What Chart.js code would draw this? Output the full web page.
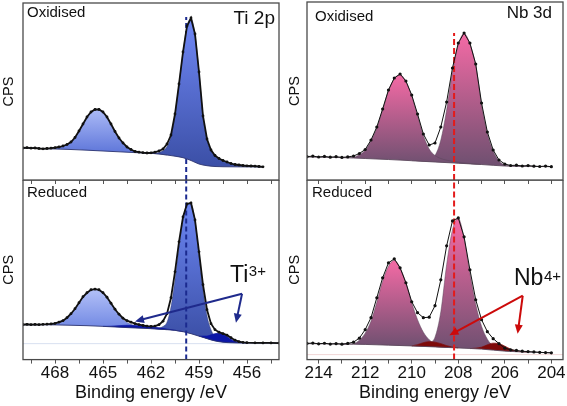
<!DOCTYPE html>
<html>
<head>
<meta charset="utf-8">
<script src="https://cdn.jsdelivr.net/npm/chart.js@4.4.0/dist/chart.umd.min.js"></script>
<style>
  body { margin: 0; background: #fff; }
  #wrap { position: relative; width: 567px; height: 406px; overflow: hidden; }
  canvas { position: absolute; }
</style>
</head>
<body>
<div id="wrap">
  <canvas id="tiOx" width="283" height="184" style="left:0;top:0"></canvas>
  <canvas id="tiRed" width="283" height="226" style="left:0;top:180px"></canvas>
  <canvas id="nbOx" width="281" height="184" style="left:286px;top:0"></canvas>
  <canvas id="nbRed" width="281" height="226" style="left:286px;top:180px"></canvas>
</div>
<script>
// ---- Ti 2p, oxidised: [binding energy eV, CPS (arb.)]
var tiOxData = [[470,32],[469.75,32.3],[469.5,31.8],[469.25,32],[469,31.5],[468.75,31.2],[468.5,31.5],[468.25,31.8],[468,32.3],[467.75,33],[467.5,34],[467.25,35.5],[467,38],[466.75,42.5],[466.5,49],[466.25,56],[466,63],[465.75,68],[465.5,70.5],[465.25,70.5],[465,68],[464.75,63],[464.5,56],[464.25,48.5],[464,42],[463.75,37],[463.5,33],[463.25,30.5],[463,28.5],[462.75,27.8],[462.5,27.3],[462.25,27],[462,27.2],[461.75,27.8],[461.5,29],[461.25,31],[461,36],[460.75,45],[460.5,66],[460.25,96],[460,128],[459.75,154],[459.5,162],[459.25,146],[459,108],[458.75,64],[458.5,41],[458.25,30],[458,24.5],[457.75,21.5],[457.5,19.5],[457.25,18],[457,16.5],[456.75,15.5],[456.5,15],[456.25,14.5],[456,14.2],[455.75,14],[455.5,13.8],[455.25,13.5],[455,13.2]];
var tiOxBg = [[470,32],[469,31.5],[468,31],[467,30.5],[466,29.8],[465,29],[464,28.2],[463,27.4],[462,26.7],[461.5,26],[461,25],[460.5,23.8],[460,22.3],[459.5,19.5],[459,16],[458.5,14.3],[458,13.5],[457,13.2],[455,13]];
var tiOx2p12 = [[470,32],[469,31.6],[468.5,31.4],[468,31.8],[467.75,32.7],[467.5,33.8],[467.25,35.3],[467,37.8],[466.75,42.3],[466.5,48.8],[466.25,55.8],[466,62.8],[465.75,67.8],[465.5,70.3],[465.25,70.3],[465,67.8],[464.75,62.8],[464.5,55.8],[464.25,48.3],[464,41.8],[463.75,36.6],[463.5,32.6],[463.25,30],[463,28.4],[462.5,27.3],[462,26.8],[461.5,26.1],[461,25]];
var tiOx2p32 = [[462.5,27],[462,26.8],[461.75,27],[461.5,27.6],[461.25,29.2],[461,33.5],[460.75,43.5],[460.5,65],[460.25,95.5],[460,127.5],[459.75,153.5],[459.5,161.5],[459.25,145.5],[459,107.5],[458.75,63.5],[458.5,40.5],[458.25,29.5],[458,24],[457.75,21],[457.5,19],[457.25,17.5],[457,16.2],[456.5,14.8],[456,14],[455.5,13.6],[455,13.1]];

// ---- Ti 2p, reduced
var tiRedData = [[470,35],[469.75,35.4],[469.5,35],[469.25,35.3],[469,35],[468.75,35.4],[468.5,35.5],[468.25,35.8],[468,36.3],[467.75,37.5],[467.5,39],[467.25,42],[467,46],[466.75,51],[466.5,57],[466.25,63],[466,67],[465.75,70],[465.5,70.7],[465.25,70],[465,67],[464.75,62.5],[464.5,56.5],[464.25,50.5],[464,45.5],[463.75,41.5],[463.5,39],[463.25,37.5],[463,36],[462.75,35],[462.5,34.2],[462.25,33.6],[462,33.3],[461.75,33.6],[461.5,35],[461.25,38.5],[461,46],[460.75,62],[460.5,88],[460.25,118],[460,143],[459.75,156],[459.5,157],[459.25,140],[459,108],[458.75,75],[458.5,50],[458.25,36],[458,30],[457.75,27.5],[457.5,26],[457.25,24.5],[457,22],[456.75,19.5],[456.5,18],[456.25,17.3],[456,17],[455.5,16.8],[455,16.7],[454.5,16.7],[454,16.6]];
var tiRedBg = [[470,35],[468,34.8],[466,34],[465,33.3],[464,32.5],[463,31.7],[462,31],[461,30],[460.5,29.3],[460,28],[459.5,26],[459,23.5],[458.5,21],[458,18.7],[457.5,17.4],[457,16.9],[456,16.7],[454,16.6]];
var tiRed2p12 = [[470,35],[469,35.1],[468.5,35.3],[468,36],[467.75,37],[467.5,38.5],[467.25,41.5],[467,45.5],[466.75,50.5],[466.5,56.5],[466.25,62.5],[466,66.8],[465.75,69.7],[465.5,70.4],[465.25,69.6],[465,66.5],[464.75,62],[464.5,56],[464.25,50],[464,44.5],[463.75,40.3],[463.5,37.3],[463.25,35.3],[463,33.8],[462.5,32.2],[462,31.3],[461.5,30.6],[461,30]];
var tiRed2p32 = [[462,31],[461.5,31.6],[461.25,33.2],[461,37.5],[460.75,53],[460.5,80],[460.25,113],[460,140],[459.75,155],[459.5,156],[459.25,139],[459,104],[458.75,70],[458.5,44],[458.25,30],[458,23],[457.75,20],[457.5,18.4],[457,17.2],[456.5,16.8],[456,16.7]];
var tiRedTi3a = [[465,33.3],[464.5,33.5],[464,34],[463.5,34.4],[463,34.3],[462.5,33.8],[462,33],[461.5,31.8],[461,30.6],[460.5,29.4],[460,28]];
var tiRedTi3b = [[459,23.5],[458.5,23.6],[458.25,24.8],[458,26],[457.75,26.4],[457.5,25.4],[457.25,23.2],[457,20.4],[456.75,18.3],[456.5,17.2],[456,16.7]];
var tiRedBase = [[470,16],[454,16]];

// ---- Nb 3d, oxidised
var nbOxData = [[214.5,23.3],[214.25,23.9],[214,23],[213.75,23.6],[213.5,22.8],[213.25,23.3],[213,22.6],[212.75,23.1],[212.5,24],[212.25,26.5],[212,30.5],[211.75,40],[211.5,53],[211.25,71],[211,90],[210.75,102],[210.5,106],[210.25,99],[210,85],[209.75,66],[209.5,46],[209.25,35],[209,37],[208.75,53],[208.5,78],[208.25,112],[208,137],[207.75,147],[207.5,137],[207.25,116],[207,77],[206.75,48],[206.5,30],[206.25,20],[206,16],[205.75,14.5],[205.5,14.8],[205.25,14],[205,14.4],[204.75,13.8],[204.5,13.5],[204.25,13.9],[204,13.3]];
var nbOxBg = [[214.5,23],[213,22.4],[212.5,22],[212,21.5],[211,20.5],[210,19.3],[209,18],[208,16.8],[207,15.5],[206,14],[205,13.7],[204,13.3]];
var nbOx3d32 = [[213,22.4],[212.5,22.8],[212.25,25.3],[212,29.8],[211.75,39.3],[211.5,52.3],[211.25,70.3],[211,89.3],[210.75,101.3],[210.5,105.3],[210.25,98.3],[210,84],[209.75,64.5],[209.5,44.5],[209.25,31],[209,24.5],[208.75,21.5],[208.5,19.8],[208,17.8],[207.5,16.4],[207,15.5]];
var nbOx3d52 = [[210,19.3],[209.5,19.5],[209.25,20.8],[209,24.5],[208.75,40],[208.5,70],[208.25,108],[208,135],[207.75,146.5],[207.5,136],[207.25,114.5],[207,75.5],[206.75,46.5],[206.5,29],[206.25,19],[206,15],[205.75,14.2],[205.5,13.9],[205,13.7]];

// ---- Nb 3d, reduced
var nbRedData = [[214.5,16.2],[214.25,16.6],[214,15.8],[213.75,16.4],[213.5,15.6],[213.25,16],[213,15.5],[212.75,16.2],[212.5,17.5],[212.25,21.5],[212,30],[211.75,42],[211.5,62],[211.25,82],[211,97],[210.75,101],[210.5,92],[210.25,77],[210,58],[209.75,47],[209.5,42],[209.25,42.5],[209,54],[208.75,80],[208.5,114],[208.25,139],[208,142],[207.75,123],[207.5,90],[207.25,60],[207,40],[206.75,28],[206.5,21],[206.25,16],[206,11.5],[205.75,9.8],[205.5,9.2],[205.25,8.4],[205,8],[204.75,7.7],[204.5,7.3],[204.25,7],[204,6.8]];
var nbRedBg = [[214.5,16],[212.5,15.5],[212,15.2],[211,14.5],[210,13.7],[209,12.7],[208,11.7],[207,10.5],[206,8.5],[205,7.5],[204,6.8]];
var nbRed3d32 = [[213,15.3],[212.5,16],[212.25,19.5],[212,26.5],[211.75,38.5],[211.5,57.5],[211.25,78.5],[211,93.5],[210.75,99.5],[210.5,92],[210.25,77],[210,57],[209.75,40],[209.5,27.5],[209.25,20],[209,16],[208.5,13.5],[208,12]];
var nbRed3d52 = [[210,13.7],[209.5,14.5],[209.25,16.5],[209,22.5],[208.75,48],[208.5,95],[208.25,130],[208,141.5],[207.75,121.5],[207.5,86.5],[207.25,55.5],[207,33.5],[206.75,20.5],[206.5,13.5],[206.25,10],[206,8.8],[205.5,8]];
var nbRedNb4a = [[210,13.7],[209.75,15],[209.5,17],[209.25,18],[209,17.5],[208.75,16],[208.5,14],[208.25,12.5],[208,11.7]];
var nbRedNb4b = [[207.5,11],[207.25,11.5],[207,12.5],[206.75,14.8],[206.5,16.5],[206.25,16],[206,13.5],[205.75,10.5],[205.5,8.5],[205.25,7.8],[205,7.5]];
var nbRedBase = [[214.5,5],[203.5,5]];

// reference energies (dashed lines) and axes
var tiRefE = 459.8, nbRefE = 208.18;
var tiTicks = [469.5, 468, 466.5, 465, 463.5, 462, 460.5, 459, 457.5, 456, 454.5];
var tiTickLabels = [468, 465, 462, 459, 456];
var nbTicks = [214, 213, 212, 211, 210, 209, 208, 207, 206, 205, 204];
var nbTickLabels = [214, 212, 210, 208, 206, 204];

var FONT = "'Liberation Sans', Arial, sans-serif";
Chart.defaults.font.family = FONT;
Chart.defaults.color = "#111";

function pts(a) {
  return a.map(function (p) { return { x: p[0], y: p[1] }; });
}

// vertical gradient from the top of a component down to its base
function shade(top, bottom) {
  return function (c) {
    var chart = c.chart;
    if (!chart.chartArea) return bottom;
    var ys = chart.scales.y;
    var vals = chart.data.datasets[c.datasetIndex].data.map(function (p) { return p.y; });
    var g = chart.ctx.createLinearGradient(0, ys.getPixelForValue(Math.max.apply(null, vals)), 0, ys.getPixelForValue(Math.min.apply(null, vals)));
    g.addColorStop(0, top);
    g.addColorStop(1, bottom);
    return g;
  };
}

function measured(d, lw, r) {
  return { data: pts(d), borderColor: "#111", borderWidth: lw, pointRadius: r, pointBackgroundColor: "#111", pointBorderWidth: 0, fill: false };
}
function bgLine(d, col) {
  return { data: pts(d), borderColor: col, borderWidth: 0.9, pointRadius: 0, fill: false, cubicInterpolationMode: "monotone" };
}
function comp(d, bgIdx, bg, edge) {
  return { data: pts(d), fill: bgIdx, backgroundColor: bg, borderColor: edge, borderWidth: 0.7, pointRadius: 0, cubicInterpolationMode: "monotone" };
}
function dashed(e, top, col, dash) {
  return { data: pts([[e, 0], [e, top]]), borderColor: col, borderWidth: 2, borderDash: dash, pointRadius: 0, fill: false };
}

var deco = {
  id: "deco",
  afterDatasetsDraw: function (chart, args, o) {
    var ctx = chart.ctx, a = chart.chartArea, sx = chart.scales.x, sy = chart.scales.y;
    ctx.save();
    ctx.strokeStyle = "#4a4a4a";
    ctx.lineWidth = 1.3;
    ctx.strokeRect(a.left, a.top, a.right - a.left, a.bottom - a.top);
    (o.arrows || []).forEach(function (ar) {
      var x0 = sx.getPixelForValue(ar.from[0]), y0 = sy.getPixelForValue(ar.from[1]);
      var x1 = sx.getPixelForValue(ar.to[0]), y1 = sy.getPixelForValue(ar.to[1]);
      var ang = Math.atan2(y1 - y0, x1 - x0), L = 9, W = 4;
      ctx.strokeStyle = o.arrowColor;
      ctx.fillStyle = o.arrowColor;
      ctx.lineWidth = 2;
      ctx.beginPath();
      ctx.moveTo(x0, y0);
      ctx.lineTo(x1 - L * 0.8 * Math.cos(ang), y1 - L * 0.8 * Math.sin(ang));
      ctx.stroke();
      ctx.beginPath();
      ctx.moveTo(x1, y1);
      ctx.lineTo(x1 - L * Math.cos(ang) + W * Math.sin(ang), y1 - L * Math.sin(ang) - W * Math.cos(ang));
      ctx.lineTo(x1 - L * Math.cos(ang) - W * Math.sin(ang), y1 - L * Math.sin(ang) + W * Math.cos(ang));
      ctx.closePath();
      ctx.fill();
    });
    ctx.fillStyle = "#111";
    ctx.textBaseline = "alphabetic";
    (o.labels || []).forEach(function (t) {
      ctx.font = t.size + "px " + FONT;
      var x = t.right !== undefined ? a.right - t.right : a.left + t.left;
      var y = a.top + t.top;
      ctx.textAlign = t.right !== undefined ? "right" : "left";
      ctx.fillText(t.text, x, y);
      if (t.sup) {
        var w = ctx.measureText(t.text).width;
        ctx.font = t.supSize + "px " + FONT;
        ctx.textAlign = "left";
        ctx.fillText(t.sup, x + w + 0.5, y - t.raise);
      }
    });
    ctx.restore();
  }
};

function panel(id, cfg) {
  return new Chart(document.getElementById(id), {
    type: "line",
    data: { datasets: cfg.datasets },
    options: {
      responsive: false,
      animation: false,
      events: [],
      layout: { padding: cfg.padding, autoPadding: false },
      plugins: { legend: { display: false }, tooltip: { enabled: false }, deco: cfg.deco },
      scales: {
        x: {
          type: "linear", reverse: true, min: cfg.xMin, max: cfg.xMax,
          afterBuildTicks: function (s) { s.ticks = cfg.ticks.map(function (v) { return { value: v }; }); },
          ticks: {
            display: cfg.bottom, autoSkip: false, maxRotation: 0, minRotation: 0, padding: 0,
            color: "#111", font: { size: 17 },
            callback: function (v) { return cfg.labels.indexOf(v) >= 0 ? String(v) : ""; }
          },
          grid: { drawOnChartArea: false, drawTicks: true, tickLength: 4, color: "#555", lineWidth: 1 },
          border: { display: false },
          title: { display: cfg.bottom, text: "Binding energy /eV", color: "#111", font: { size: 18, lineHeight: 1 }, padding: { top: 0, bottom: 4 } }
        },
        y: {
          min: 0, max: cfg.yMax,
          ticks: { display: false },
          grid: { display: false, drawTicks: false },
          border: { display: false },
          title: { display: true, text: "CPS", color: "#111", font: { size: 14.5 }, padding: { top: 0, bottom: cfg.cpsGap } }
        }
      }
    },
    plugins: [deco]
  });
}

var tiEdge = "rgba(40,50,110,0.6)", nbEdge = "rgba(90,70,90,0.7)";

panel("tiOx", {
  xMin: 454, xMax: 470, yMax: 177, ticks: tiTicks, labels: tiTickLabels, bottom: false,
  padding: { top: 3, right: 4, left: 0, bottom: 0 }, cpsGap: 5.6,
  datasets: [
    measured(tiOxData, 1.8, 1.4),
    bgLine(tiOxBg, "#2c3470"),
    comp(tiOx2p12, 1, shade("#abbaf7", "#5b73d8"), tiEdge),
    comp(tiOx2p32, 1, shade("#7088f5", "#3b4fa6"), tiEdge),
    dashed(tiRefE, 163, "#1b2a8f", [5, 3])
  ],
  deco: { labels: [
    { text: "Oxidised", left: 4, top: 14, size: 15 },
    { text: "Ti 2p", right: 4, top: 20.5, size: 19 }
  ] }
});

panel("tiRed", {
  xMin: 454, xMax: 470, yMax: 180, ticks: tiTicks, labels: tiTickLabels, bottom: true,
  padding: { top: 0, right: 4, left: 0, bottom: 0 }, cpsGap: 5.6,
  datasets: [
    measured(tiRedData, 1.8, 1.4),
    dashed(tiRefE, 180, "#1b2a8f", [5, 3]),
    bgLine(tiRedBg, "#2c3470"),
    comp(tiRedTi3a, 2, "#0b16a6", "#0b16a6"),
    comp(tiRedTi3b, 2, "#0b16a6", "#0b16a6"),
    comp(tiRed2p12, 2, shade("#b3c1f8", "#6f86e2"), tiEdge),
    comp(tiRed2p32, 2, shade("#6c86f3", "#3a4ea4"), tiEdge),
    { data: pts(tiRedBase), borderColor: "#d9e0f0", borderWidth: 1, pointRadius: 0, fill: false }
  ],
  deco: {
    arrowColor: "#1f2a8c",
    arrows: [ { from: [456.31, 66], to: [463.0, 38.3] }, { from: [456.31, 66], to: [456.69, 37] } ],
    labels: [
      { text: "Reduced", left: 4, top: 17.3, size: 15 },
      { text: "Ti", sup: "3+", supSize: 15, raise: 6, left: 207, top: 102, size: 23 }
    ]
  }
});

panel("nbOx", {
  xMin: 203.5, xMax: 214.5, yMax: 178, ticks: nbTicks, labels: nbTickLabels, bottom: false,
  padding: { top: 2, right: 4, left: 0, bottom: 0 }, cpsGap: 3.6,
  datasets: [
    measured(nbOxData, 1, 1.6),
    dashed(nbRefE, 147, "#e31b1b", [6, 3]),
    bgLine(nbOxBg, "#5d4a5d"),
    comp(nbOx3d32, 2, shade("#f46aa5", "#6e5070"), nbEdge),
    comp(nbOx3d52, 2, shade("#f46aa5", "#6e5070"), nbEdge)
  ],
  deco: { labels: [
    { text: "Oxidised", left: 8, top: 18.7, size: 15 },
    { text: "Nb 3d", right: 11, top: 16.3, size: 17 }
  ] }
});

panel("nbRed", {
  xMin: 203.5, xMax: 214.5, yMax: 180, ticks: nbTicks, labels: nbTickLabels, bottom: true,
  padding: { top: 0, right: 4, left: 0, bottom: 0 }, cpsGap: 3.6,
  datasets: [
    measured(nbRedData, 1, 1.6),
    dashed(nbRefE, 180, "#e31b1b", [6, 3]),
    bgLine(nbRedBg, "#5d4a5d"),
    comp(nbRedNb4a, 2, "#7e0a0a", "#7e0a0a"),
    comp(nbRedNb4b, 2, "#7e0a0a", "#7e0a0a"),
    comp(nbRed3d32, 2, shade("#f46aa5", "#6e5070"), nbEdge),
    comp(nbRed3d52, 2, shade("#f46aa5", "#6e5070"), nbEdge),
    { data: pts(nbRedBase), borderColor: "#f1d6d6", borderWidth: 1, pointRadius: 0, fill: false }
  ],
  deco: {
    arrowColor: "#cc0a0a",
    arrows: [ { from: [205.23, 64], to: [208.38, 24.3] }, { from: [205.23, 64], to: [205.45, 26] } ],
    labels: [
      { text: "Reduced", left: 5, top: 16.7, size: 15 },
      { text: "Nb", sup: "4+", supSize: 15, raise: 4, left: 207, top: 105, size: 23 }
    ]
  }
});
</script>
</body>
</html>
